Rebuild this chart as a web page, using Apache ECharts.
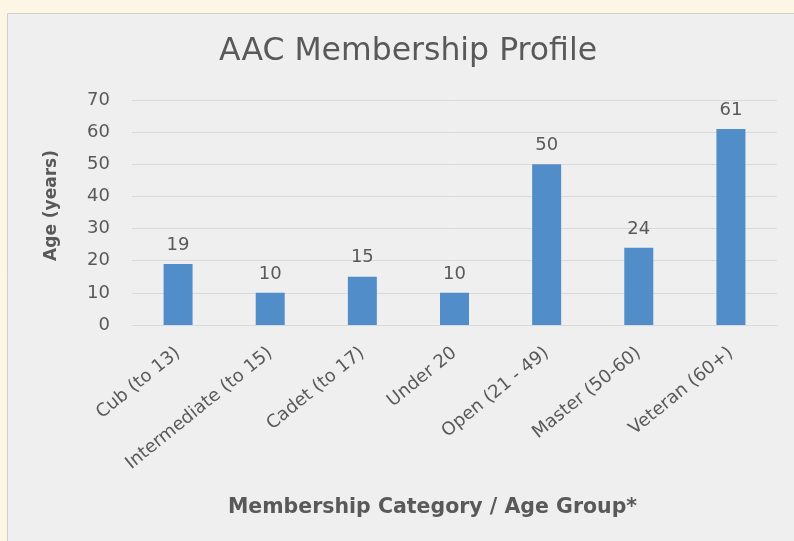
<!DOCTYPE html>
<html>
<head>
<meta charset="utf-8">
<script src="https://cdn.jsdelivr.net/npm/echarts@6/dist/echarts.min.js"></script>
<style>
  html, body { margin: 0; padding: 0; background: #fdf6e4; }
  #chart { width: 794px; height: 541px; }
</style>
</head>
<body>
<div id="chart"></div>
<script>
// membership categories and ages
const categories = ['Cub (to 13)', 'Intermediate (to 15)', 'Cadet (to 17)', 'Under 20', 'Open (21 - 49)', 'Master (50-60)', 'Veteran (60+)'];
const ages = [19, 10, 15, 10, 50, 24, 61];
const yTicks = [0, 10, 20, 30, 40, 50, 60, 70];

const FONT = 'DejaVu Sans';
const GREY = '#595959';

const chart = echarts.init(document.getElementById('chart'));

const option = {
  backgroundColor: '#fdf6e4',
  textStyle: { fontFamily: FONT },
  graphic: [{
    type: 'rect',
    z: -10,
    shape: { x: 7.5, y: 13.5, width: 800, height: 540 },
    style: { fill: '#efefef', stroke: '#cfcfcf', lineWidth: 1 }
  }],
  title: {
    text: 'AAC Membership Profile',
    left: 214,
    top: 31,
    textStyle: { fontSize: 31.5, fontWeight: 'normal', color: GREY, fontFamily: FONT }
  },
  grid: { left: 132, right: 17, top: 100, bottom: 216 },
  xAxis: {
    type: 'category',
    data: categories,
    name: 'Membership Category / Age Group*',
    nameLocation: 'middle',
    nameGap: 172,
    nameTextStyle: { fontSize: 20.5, fontWeight: 'bold', color: GREY, fontFamily: FONT, padding: [0, 44, 0, 0] },
    axisLine: { lineStyle: { color: '#d9d9d9', width: 1 } },
    axisTick: { show: false },
    axisLabel: { rotate: 39, fontSize: 18, color: GREY, margin: 26, interval: 0, fontFamily: FONT }
  },
  yAxis: {
    type: 'value',
    min: yTicks[0],
    max: yTicks[yTicks.length - 1],
    interval: 10,
    name: 'Age (years)',
    nameLocation: 'middle',
    nameGap: 72,
    nameRotate: 90,
    nameTextStyle: { fontSize: 17, fontWeight: 'bold', color: GREY, fontFamily: FONT, padding: [0, 0, 0, 14] },
    axisLine: { show: false },
    axisTick: { show: false },
    axisLabel: { fontSize: 18, color: GREY, margin: 22, fontFamily: FONT },
    splitLine: { lineStyle: { color: '#d9d9d9', width: 1 } }
  },
  series: [{
    type: 'bar',
    data: ages,
    barWidth: 29,
    itemStyle: { color: '#518dc8' },
    label: {
      show: true,
      position: 'top',
      distance: 10,
      fontSize: 18,
      color: GREY,
      fontFamily: FONT
    }
  }]
};

chart.setOption(option);
</script>
</body>
</html>
